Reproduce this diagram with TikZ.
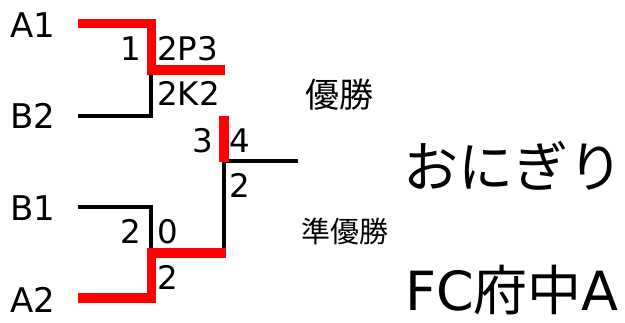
\documentclass[tikz,border=0pt]{standalone}
\usepackage{fontspec}
\setmainfont{DejaVu Sans}
\newfontfamily\cjk{Noto Sans CJK JP}
\definecolor{bracketred}{RGB}{255,0,0}
\begin{document}
\begin{tikzpicture}[x=1pt,y=-1pt,
  redline/.style={line width=9.5pt,draw=bracketred,line join=miter,line cap=butt},
  blackline/.style={line width=3.5pt,draw=black,line join=miter,line cap=butt},
  team/.style={inner sep=0,anchor=base west,font=\fontsize{34}{40}\selectfont},
  scoreL/.style={inner sep=0,anchor=base east,font=\fontsize{32.5}{38}\selectfont},
  scoreR/.style={inner sep=0,anchor=base west,font=\fontsize{32.5}{38}\selectfont},
  title/.style={inner sep=0,anchor=center},
]
\useasboundingbox (0,0) rectangle (625,322);
% corner coordinates
\coordinate (a1e) at (78,23.5);
\coordinate (a1c) at (151.5,23.5);
\coordinate (s1c) at (151.5,70);
\coordinate (s1e) at (225,70);
\coordinate (b2e) at (78,116);
\coordinate (b2c) at (151,116);
\coordinate (b2t) at (151,70);
\coordinate (ft) at (224,116);
\coordinate (fm) at (224,161);
\coordinate (fr) at (298,161);
\coordinate (fb) at (224,253);
\coordinate (b1e) at (78,207);
\coordinate (b1c) at (151,207);
\coordinate (b1b) at (151,253);
\coordinate (a2e) at (78,298);
\coordinate (a2c) at (151.5,298);
\coordinate (s2c) at (151.5,253);
\coordinate (s2e) at (226,253);
\coordinate (ftb) at (224,162);
% black lines
\draw[blackline] (b2e) -- (b2c) -- (b2t);
\draw[blackline] (b1e) -- (b1c) -- (b1b);
\draw[blackline] (fm) -- (fr);
\draw[blackline] (fm) -- (fb);
% red lines
\draw[redline] (a1e) -- (a1c) -- (s1c) -- (s1e);
\draw[redline] (a2e) -- (a2c) -- (s2c) -- (s2e);
\draw[redline] (ft) -- (ftb);
% team labels
\node[team] (tA1) at (10,37) {A1};
\node[team] (tB2) at (10,128) {B2};
\node[team] (tB1) at (10,220) {B1};
\node[team] (tA2) at (10,312) {A2};
% scores
\node[scoreL] (sc1) at (141,60) {1};
\node[scoreR] (sc2) at (157,60) {2P3};
\node[scoreR] (sc3) at (157,105) {2K2};
\node[scoreL] (sc4) at (213,152) {3};
\node[scoreR] (sc5) at (229,152) {4};
\node[scoreR] (sc6) at (229,197) {2};
\node[scoreL] (sc7) at (141,243) {2};
\node[scoreR] (sc8) at (157,243) {0};
\node[scoreR] (sc9) at (157,289) {2};
% result texts
\node[title,font=\cjk\fontsize{34}{40}\selectfont] (win) at (339,95) {優勝};
\node[title,font=\cjk\fontsize{29}{35}\selectfont] (run) at (345,231) {準優勝};
\node[title,font=\cjk\fontsize{55}{66}\selectfont] (winner) at (513,166) {おにぎり};
\node[title,font=\fontsize{54}{64}\selectfont] (runner) at (512,290) {FC{\cjk 府中}A};
\end{tikzpicture}
\end{document}
